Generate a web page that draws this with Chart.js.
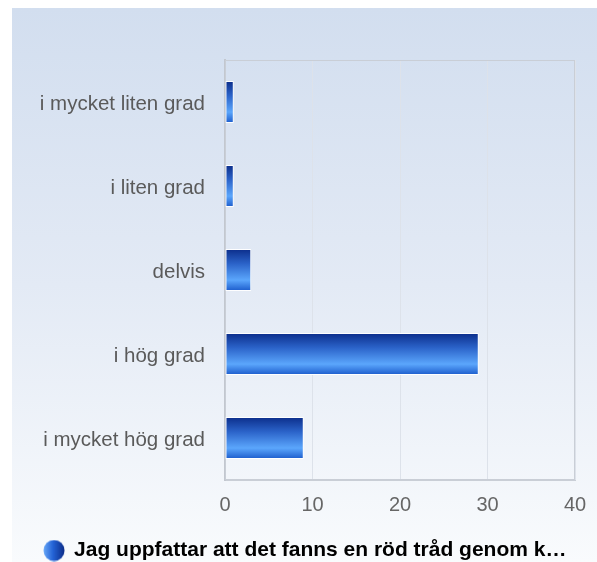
<!DOCTYPE html>
<html><head><meta charset="utf-8">
<script src="https://cdn.jsdelivr.net/npm/chart.js@4/dist/chart.umd.min.js"></script>
<style>
html,body{margin:0;padding:0;background:#fff;}
#wrap{position:absolute;left:12px;top:8px;width:585px;height:554px;overflow:hidden;
background:linear-gradient(to bottom,#d2deef 0%,#e3eaf5 50%,#f9fbfd 100%);}
#c{display:block;}
</style></head><body>
<div id="wrap"><canvas id="c" width="585" height="563" style="width:585px;height:563px"></canvas></div>
<script>
const categories = ["i mycket liten grad","i liten grad","delvis","i hög grad","i mycket hög grad"];
const values = [1, 1, 3, 29, 9];
const tickValues = [0, 10, 20, 30, 40];
const seriesLabel = "Jag uppfattar att det fanns en röd tråd genom k…";

const FONT = "'Liberation Sans', Arial, sans-serif";
const BAR_PCT = 0.5;

// legend marker
const mk = document.createElement('canvas');
mk.width = 22; mk.height = 22;
(function(){
  const g = mk.getContext('2d');
  const gr = g.createLinearGradient(0,0,22,0);
  gr.addColorStop(0,'#6aaaf8');
  gr.addColorStop(0.45,'#2463d6');
  gr.addColorStop(1,'#0b2a86');
  g.fillStyle = gr;
  g.beginPath(); g.arc(11,11,10.5,0,Math.PI*2); g.fill();
})();

function barFill(ctx){
  const chart = ctx.chart;
  const ys = chart.scales.y;
  if (!ys || ctx.dataIndex === undefined) return '#2a62c8';
  const c = ys.getPixelForValue(ctx.dataIndex);
  const half = (ys.height / categories.length) * BAR_PCT / 2;
  const g = chart.ctx.createLinearGradient(0, c - half, 0, c + half);
  g.addColorStop(0, '#0b2d8a');
  g.addColorStop(0.35, '#2b63c9');
  g.addColorStop(0.74, '#5ba6fc');
  g.addColorStop(1, '#1b5bcb');
  return g;
}

const frame = {
  id:'frame',
  beforeDatasetsDraw(chart){
    const a = chart.chartArea, g = chart.ctx;
    g.save();
    g.strokeStyle = '#c9ced6'; g.lineWidth = 1;
    g.strokeRect(a.left+0.5, a.top+0.5, a.right-a.left-1, a.bottom-a.top-1);
    g.restore();
  }
};

new Chart(document.getElementById('c'), {
  type:'bar',
  data:{
    labels: categories,
    datasets:[{
      label: seriesLabel,
      data: values,
      backgroundColor: barFill,
      borderColor: 'rgba(255,255,255,0.95)',
      borderWidth: 1,
      borderSkipped: false,
      barPercentage: BAR_PCT,
      categoryPercentage: 1
    }]
  },
  plugins:[frame],
  options:{
    indexAxis:'y',
    responsive:false,
    animation:false,
    layout:{padding:{top:52,right:22,left:24,bottom:0}},
    scales:{
      x:{
        min:0,max:40,
        afterBuildTicks(s){ s.ticks = tickValues.map(v=>({value:v})); },
        afterFit(s){ s.height = 50; s.paddingRight = 12; s.paddingLeft = 8; },
        grid:{color:'#dde2ea',lineWidth:1,drawTicks:false},
        border:{color:'#c9ced6',width:1},
        ticks:{color:'#666',font:{family:FONT,size:20},padding:13}
      },
      y:{
        afterFit(s){ s.width = 189; },
        grid:{display:false,drawTicks:false},
        border:{color:'#c2c7cf',width:2},
        ticks:{color:'#5a5a5a',font:{family:FONT,size:20.5},padding:20,labelOffset:2}
      }
    },
    plugins:{
      legend:{
        position:'bottom',
        labels:{
          usePointStyle:true,
          pointStyle: mk,
          pointStyleWidth: 19,
          color:'#333',
          font:{family:FONT,size:21,weight:'bold'},
          padding:10,
          generateLabels(chart){
            return [{text: seriesLabel, pointStyle: mk, fillStyle:'#2463d6', strokeStyle:'transparent', lineWidth:0, datasetIndex:0, hidden:false}];
          }
        }
      },
      tooltip:{enabled:false}
    }
  }
});
</script>
</body></html>
